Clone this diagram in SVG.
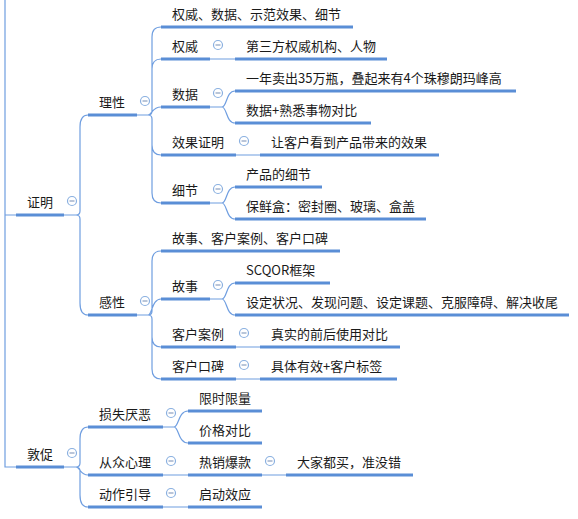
<svg xmlns="http://www.w3.org/2000/svg" width="578" height="519" viewBox="0 0 578 519">
<style>
text{font-family:"Noto Sans CJK SC","Microsoft YaHei",sans-serif;font-size:13px;fill:#1a1a1a}
.ul{stroke:#5a8ed6;stroke-width:3;fill:none}
.cn{stroke:#6f9ee0;stroke-width:1.2;fill:none}
.tg circle{fill:#fff;stroke:#8ab0e0;stroke-width:1.2}
.tg line{stroke:#8a9fc0;stroke-width:1.2}
</style>
<defs>
<g id="tog" class="tg"><circle cx="0" cy="0" r="4.5"/><line x1="-2.5" y1="0" x2="2.5" y2="0"/></g>
</defs>
<rect width="578" height="519" fill="#fff"/>
<g id="connectors">
<path class="cn" d="M5,0 V467 H16 M5,215 H16"/>
<path class="cn" d="M64,215 H76 Q80,215 80,211 V127 Q80,115 88,115 M76,215 Q80,215 80,219 V303 Q80,315 88,315"/>
<path class="cn" d="M137,115 H148 Q152,115 152,111 V37 Q152,27 161,27 M148,115 Q152,115 152,111 V69 Q152,59 161,59 M148,115 C152,115 152,107 161,107 M148,115 Q152,115 152,119 V145 Q152,155 161,155 M148,115 Q152,115 152,119 V193 Q152,203 161,203"/>
<path class="cn" d="M137,315 H148 Q152,315 152,311 V261 Q152,251 161,251 M148,315 C152,315 152,299 161,299 M148,315 Q152,315 152,319 V337 Q152,347 161,347 M148,315 Q152,315 152,319 V369 Q152,379 161,379"/>
<path class="cn" d="M210,59 H235 M236,155 H260 M236,347 H260 M236,379 H260"/>
<path class="cn" d="M210,107 H222 C227,107 226,91 235,91 M222,107 C227,107 226,123 235,123"/>
<path class="cn" d="M210,203 H222 C227,203 226,187 235,187 M222,203 C227,203 226,219 235,219"/>
<path class="cn" d="M210,299 H222 C227,299 226,283 235,283 M222,299 C227,299 226,315 235,315"/>
<path class="cn" d="M64,467 H76 Q80,467 80,463 V439 Q80,427 88,427 M76,467 C80,467 80,475 88,475 M76,467 Q80,467 80,471 V495 Q80,507 88,507"/>
<path class="cn" d="M163,427 H174 C179,427 178,411 188,411 M174,427 C179,427 178,443 188,443"/>
<path class="cn" d="M163,475 H188 M262,475 H286 M163,507 H188"/>
</g>
<g id="n-zhengming"><text x="27" y="207">证明</text><path class="ul" d="M16,215 H64"/><use href="#tog" x="72" y="201"/></g>
<g id="n-dunchu"><text x="27" y="459">敦促</text><path class="ul" d="M16,467 H64"/><use href="#tog" x="72" y="453"/></g>
<g id="n-lixing"><text x="99" y="107">理性</text><path class="ul" d="M88,115 H137"/><use href="#tog" x="145" y="101"/></g>
<g id="n-ganxing"><text x="99" y="307">感性</text><path class="ul" d="M88,315 H137"/><use href="#tog" x="145" y="301"/></g>
<g id="n-summary1"><text x="172" y="19">权威、数据、示范效果、细节</text><path class="ul" d="M161,27 H353"/></g>
<g id="n-quanwei"><text x="172" y="51">权威</text><path class="ul" d="M161,59 H210"/><use href="#tog" x="218" y="45"/></g>
<g id="n-quanwei-c"><text x="246" y="51">第三方权威机构、人物</text><path class="ul" d="M235,59 H387"/></g>
<g id="n-shuju"><text x="172" y="99">数据</text><path class="ul" d="M161,107 H210"/><use href="#tog" x="218" y="93"/></g>
<g id="n-shuju-1"><text x="246" y="83">一年卖出35万瓶，叠起来有4个珠穆朗玛峰高</text><path class="ul" d="M235,91 H516"/></g>
<g id="n-shuju-2"><text x="246" y="115">数据+熟悉事物对比</text><path class="ul" d="M235,123 H371"/></g>
<g id="n-xiaoguo"><text x="172" y="147">效果证明</text><path class="ul" d="M161,155 H236"/><use href="#tog" x="244" y="141"/></g>
<g id="n-xiaoguo-c"><text x="271" y="147">让客户看到产品带来的效果</text><path class="ul" d="M260,155 H439"/></g>
<g id="n-xijie"><text x="172" y="195">细节</text><path class="ul" d="M161,203 H210"/><use href="#tog" x="218" y="189"/></g>
<g id="n-xijie-1"><text x="246" y="179">产品的细节</text><path class="ul" d="M235,187 H322"/></g>
<g id="n-xijie-2"><text x="246" y="211">保鲜盒：密封圈、玻璃、盒盖</text><path class="ul" d="M235,219 H426"/></g>
<g id="n-summary2"><text x="172" y="243">故事、客户案例、客户口碑</text><path class="ul" d="M161,251 H340"/></g>
<g id="n-gushi"><text x="172" y="291">故事</text><path class="ul" d="M161,299 H210"/><use href="#tog" x="218" y="285"/></g>
<g id="n-gushi-1"><text x="246" y="275">SCQOR框架</text><path class="ul" d="M235,283 H330"/></g>
<g id="n-gushi-2"><text x="246" y="307">设定状况、发现问题、设定课题、克服障碍、解决收尾</text><path class="ul" d="M235,315 H569"/></g>
<g id="n-anli"><text x="172" y="339">客户案例</text><path class="ul" d="M161,347 H236"/><use href="#tog" x="244" y="333"/></g>
<g id="n-anli-c"><text x="271" y="339">真实的前后使用对比</text><path class="ul" d="M260,347 H400"/></g>
<g id="n-koubei"><text x="172" y="371">客户口碑</text><path class="ul" d="M161,379 H236"/><use href="#tog" x="244" y="365"/></g>
<g id="n-koubei-c"><text x="271" y="371">具体有效+客户标签</text><path class="ul" d="M260,379 H397"/></g>
<g id="n-sunshi"><text x="99" y="419">损失厌恶</text><path class="ul" d="M88,427 H163"/><use href="#tog" x="171" y="413"/></g>
<g id="n-xianshi"><text x="199" y="403">限时限量</text><path class="ul" d="M188,411 H262"/></g>
<g id="n-jiage"><text x="199" y="435">价格对比</text><path class="ul" d="M188,443 H262"/></g>
<g id="n-congzhong"><text x="99" y="467">从众心理</text><path class="ul" d="M88,475 H163"/><use href="#tog" x="171" y="461"/></g>
<g id="n-rexiao"><text x="199" y="467">热销爆款</text><path class="ul" d="M188,475 H262"/><use href="#tog" x="270" y="461"/></g>
<g id="n-dajia"><text x="297" y="467">大家都买，准没错</text><path class="ul" d="M286,475 H413"/></g>
<g id="n-dongzuo"><text x="99" y="499">动作引导</text><path class="ul" d="M88,507 H163"/><use href="#tog" x="171" y="493"/></g>
<g id="n-qidong"><text x="199" y="499">启动效应</text><path class="ul" d="M188,507 H262"/></g>
</svg>
